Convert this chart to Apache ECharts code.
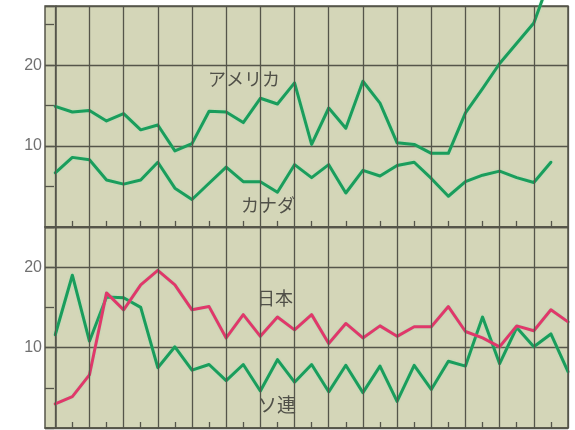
<!DOCTYPE html>
<html>
<head>
<meta charset="utf-8">
<script src="https://cdn.jsdelivr.net/npm/echarts@6/dist/echarts.min.js"></script>
<style>
html,body{margin:0;padding:0;background:#ffffff;}
#c{width:575px;height:430px;}
</style>
</head>
<body>
<div id="c"></div>
<script>
// x positions are year indices (0..30); vertical grid every 2, ticks on odd ones
const america = [14.9,14.2,14.4,13.1,14.0,12.0,12.6,9.4,10.3,14.3,14.2,12.9,15.9,15.2,17.8,10.2,14.7,12.2,18.0,15.3,10.4,10.2,9.1,9.1,14.1,17.1,20.2,22.7,25.2,31.0];
const canada  = [6.7,8.6,8.3,5.8,5.3,5.8,8.0,4.8,3.4,5.4,7.4,5.6,5.6,4.3,7.7,6.1,7.7,4.2,7.0,6.3,7.6,8.0,6.0,3.8,5.6,6.4,6.9,6.1,5.5,8.0];
const japan   = [3.0,3.9,6.6,16.8,14.7,17.8,19.6,17.8,14.7,15.1,11.2,14.1,11.4,13.8,12.2,14.1,10.5,13.0,11.2,12.7,11.4,12.6,12.6,15.1,12.0,11.2,10.1,12.7,12.1,14.7,13.2];
const ussr    = [11.6,19.0,10.8,16.3,16.2,15.0,7.5,10.1,7.2,7.9,5.9,7.9,4.6,8.5,5.7,7.9,4.5,7.8,4.4,7.7,3.3,7.8,4.8,8.3,7.7,13.8,8.0,12.5,10.1,11.7,7.0];
const vGrid   = [0,2,4,6,8,10,12,14,16,18,20,22,24,26,28,30];
const xTicks  = [1,3,5,7,9,11,13,15,17,19,21,23,25,27,29];
const yLabels = [10,20];
const names   = ['アメリカ','カナダ','日本','ソ連'];

const GREEN = '#1a9d5c';
const RED = '#e0386a';
const GRIDC = '#55554a';
const BG = '#d4d6b8';
const TICKLEN = 0.75; // tick length in axis units

const pts = arr => arr.map((v,i)=>[i,v]);

function xAx(gi){
  return {
    type:'value', gridIndex:gi, min:-0.6, max:30,
    axisLine:{show:true, lineStyle:{color:GRIDC, width:1.5}},
    axisTick:{show:false},
    axisLabel:{show:false},
    splitLine:{show:false}
  };
}
function yAx(gi, max){
  return {
    type:'value', gridIndex:gi, min:0, max:max, interval:10,
    axisLine:{show:true, lineStyle:{color:GRIDC, width:1.5}},
    axisTick:{show:false},
    axisLabel:{show:true, color:'#707070', fontSize:16, fontFamily:'Liberation Sans', margin:3,
      formatter: v => yLabels.indexOf(v) >= 0 ? String(v) : ''},
    splitLine:{show:true, lineStyle:{color:GRIDC, width:1.3}}
  };
}
function yMinor(gi, max){
  return {
    type:'value', gridIndex:gi, min:0, max:max, interval:5, position:'left',
    axisLine:{show:false},
    axisTick:{show:true, inside:true, length:9, lineStyle:{color:GRIDC, width:1.3}},
    axisLabel:{show:false},
    splitLine:{show:false}
  };
}
function gridSeries(xi, yi, arr){
  const lines = vGrid.map(v=>({xAxis:v}));
  const ticks = xTicks.map(v=>[{coord:[v,0]},{coord:[v,TICKLEN]}]);
  return {
    type:'line', xAxisIndex:xi, yAxisIndex:yi, data:pts(arr), z:1,
    symbol:'none', silent:true, lineStyle:{opacity:0},
    markLine:{
      silent:true, symbol:'none', animation:false,
      label:{show:false},
      lineStyle:{color:GRIDC, width:1.3, type:'solid'},
      data: lines.concat(ticks)
    }
  };
}
function lineSeries(xi, yi, arr, color, clip){
  return {
    type:'line', xAxisIndex:xi, yAxisIndex:yi, data:pts(arr), z:3,
    symbol:'none', clip:clip,
    lineStyle:{color:color, width:3, join:'round', cap:'round',
      shadowColor:'rgba(120,230,170,0.45)', shadowBlur:2}
  };
}

const chart = echarts.init(document.getElementById('c'), null, {renderer:'canvas'});
chart.setOption({
  backgroundColor:'#ffffff',
  animation:false,
  grid:[
    {left:45, top:6, width:523, height:221, show:true, backgroundColor:BG, borderColor:GRIDC, borderWidth:1.5},
    {left:45, top:227, width:523, height:201, show:true, backgroundColor:BG, borderColor:GRIDC, borderWidth:1.5}
  ],
  xAxis:[xAx(0), xAx(1)],
  yAxis:[yAx(0,27.3), yAx(1,25), yMinor(0,27.3), yMinor(1,25)],
  series:[
    gridSeries(0,0,canada),
    gridSeries(1,1,japan),
    lineSeries(0,0,canada,GREEN,true),
    lineSeries(0,0,america,GREEN,false),
    lineSeries(1,1,ussr,GREEN,true),
    lineSeries(1,1,japan,RED,true)
  ],
  graphic:[
    {type:'text', left:208, top:70, style:{text:names[0], fontSize:18, fill:'#505048', fontFamily:'Noto Sans CJK JP'}},
    {type:'text', left:241, top:196, style:{text:names[1], fontSize:18, fill:'#505048', fontFamily:'Noto Sans CJK JP'}},
    {type:'text', left:257, top:289, style:{text:names[2], fontSize:18, fill:'#505048', fontFamily:'Noto Sans CJK JP'}},
    {type:'text', left:258, top:395, style:{text:names[3], fontSize:19, fill:'#505048', fontFamily:'Noto Sans CJK JP'}}
  ]
});
</script>
</body>
</html>
